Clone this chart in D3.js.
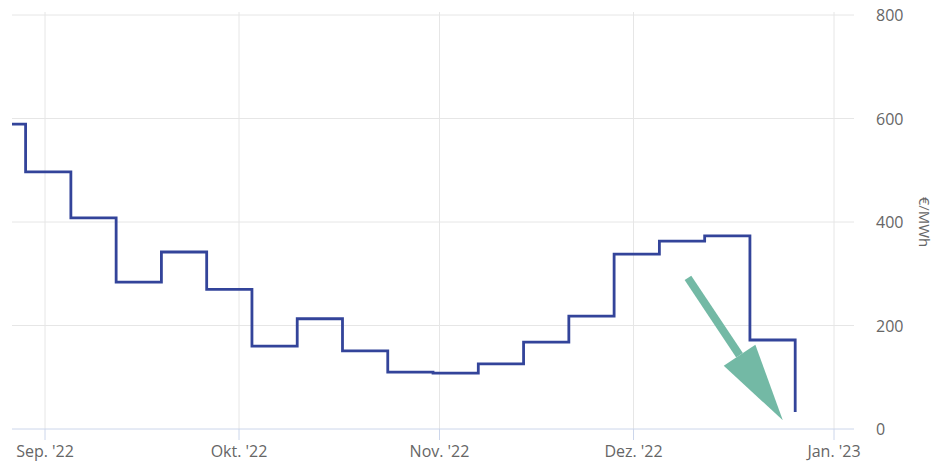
<!DOCTYPE html>
<html>
<head>
<meta charset="utf-8">
<script src="https://cdn.jsdelivr.net/npm/d3@7"></script>
<style>
  body { margin: 0; background: #fff; }
  svg text { font-family: "Open Sans", sans-serif; fill: #666; }
</style>
</head>
<body>
<div id="chart"></div>
<script>
// weekly price steps (Monday dates), €/MWh
const weeks = ["2022-08-22", "2022-08-29", "2022-09-05", "2022-09-12", "2022-09-19", "2022-09-26",
               "2022-10-03", "2022-10-10", "2022-10-17", "2022-10-24", "2022-10-31", "2022-11-07",
               "2022-11-14", "2022-11-21", "2022-11-28", "2022-12-05", "2022-12-12", "2022-12-19",
               "2022-12-26"];
const prices = [589, 497, 408, 284, 342, 270, 160, 213, 151, 110, 108, 126, 168, 218, 338, 363, 373, 172, 33];

const monthTicks = ["2022-09-01", "2022-10-01", "2022-11-01", "2022-12-01", "2023-01-01"];
const monthLabels = ["Sep. '22", "Okt. '22", "Nov. '22", "Dez. '22", "Jan. '23"];
const yTicks = [0, 200, 400, 600, 800];

// annotation arrow: [date, value] start and tip
const arrowFrom = ["2022-12-09T10:00", 292];
const arrowTo = ["2022-12-24T02:00", 17];

const W = 934, H = 463;
const plot = { left: 12, right: 854, top: 15, bottom: 429 };

const parse = d3.isoParse;
const data = weeks.map((w, i) => ({ date: parse(w), value: prices[i] }));

const x = d3.scaleTime()
    .domain([parse("2022-09-01"), parse("2023-01-01")])
    .range([45, 834]);
const y = d3.scaleLinear().domain([0, 800]).range([plot.bottom, plot.top]);

const svg = d3.select("#chart").append("svg")
    .attr("width", W)
    .attr("height", H);

svg.append("defs").append("clipPath").attr("id", "clip")
   .append("rect")
   .attr("x", plot.left).attr("y", 0)
   .attr("width", plot.right - plot.left).attr("height", H);

// horizontal grid
svg.append("g").selectAll("line")
   .data(yTicks.filter(v => v > 0))
   .join("line")
   .attr("x1", plot.left).attr("x2", plot.right)
   .attr("y1", d => y(d)).attr("y2", d => y(d))
   .attr("stroke", "#e6e6e6").attr("stroke-width", 1);

// vertical grid
const ticks = monthTicks.map(parse);
svg.append("g").selectAll("line")
   .data(ticks)
   .join("line")
   .attr("x1", d => x(d)).attr("x2", d => x(d))
   .attr("y1", plot.top - 3).attr("y2", plot.bottom)
   .attr("stroke", "#e6e6e6").attr("stroke-width", 1);

// x axis line and ticks
svg.append("line")
   .attr("x1", plot.left).attr("x2", plot.right)
   .attr("y1", plot.bottom).attr("y2", plot.bottom)
   .attr("stroke", "#ccd6eb").attr("stroke-width", 1);

svg.append("g").selectAll("line")
   .data(ticks)
   .join("line")
   .attr("x1", d => x(d)).attr("x2", d => x(d))
   .attr("y1", plot.bottom).attr("y2", plot.bottom + 11)
   .attr("stroke", "#ccd6eb").attr("stroke-width", 1);

svg.append("g").selectAll("text")
   .data(ticks)
   .join("text")
   .attr("x", d => x(d))
   .attr("y", 457)
   .attr("text-anchor", "middle")
   .style("font-size", "16px")
   .text((d, i) => monthLabels[i]);

// y axis labels (right side)
svg.append("g").selectAll("text")
   .data(yTicks)
   .join("text")
   .attr("x", 876)
   .attr("y", d => y(d) + 6)
   .style("font-size", "16px")
   .text(d => d);

svg.append("text")
   .attr("transform", `translate(919,${y(400)}) rotate(90)`)
   .attr("text-anchor", "middle")
   .style("font-size", "15px")
   .text("€/MWh");

// step line
const line = d3.line()
    .x(d => x(d.date))
    .y(d => y(d.value))
    .curve(d3.curveStepAfter);

svg.append("path")
   .datum(data)
   .attr("clip-path", "url(#clip)")
   .attr("d", line)
   .attr("fill", "none")
   .attr("stroke", "#33449a")
   .attr("stroke-width", 2.8);

// arrow annotation
const x0 = x(parse(arrowFrom[0])), y0 = y(arrowFrom[1]);
const x1 = x(parse(arrowTo[0])), y1 = y(arrowTo[1]);
const ang = Math.atan2(y1 - y0, x1 - x0);
const headLen = 78, headHalf = 19;
const bx = x1 - headLen * Math.cos(ang), by = y1 - headLen * Math.sin(ang);
const px = -Math.sin(ang), py = Math.cos(ang);

svg.append("line")
   .attr("x1", x0).attr("y1", y0)
   .attr("x2", bx).attr("y2", by)
   .attr("stroke", "#73b9a5")
   .attr("stroke-width", 8);

svg.append("path")
   .attr("d", `M${x1},${y1}L${bx + px * headHalf},${by + py * headHalf}L${bx - px * headHalf},${by - py * headHalf}Z`)
   .attr("fill", "#73b9a5");
</script>
</body>
</html>
